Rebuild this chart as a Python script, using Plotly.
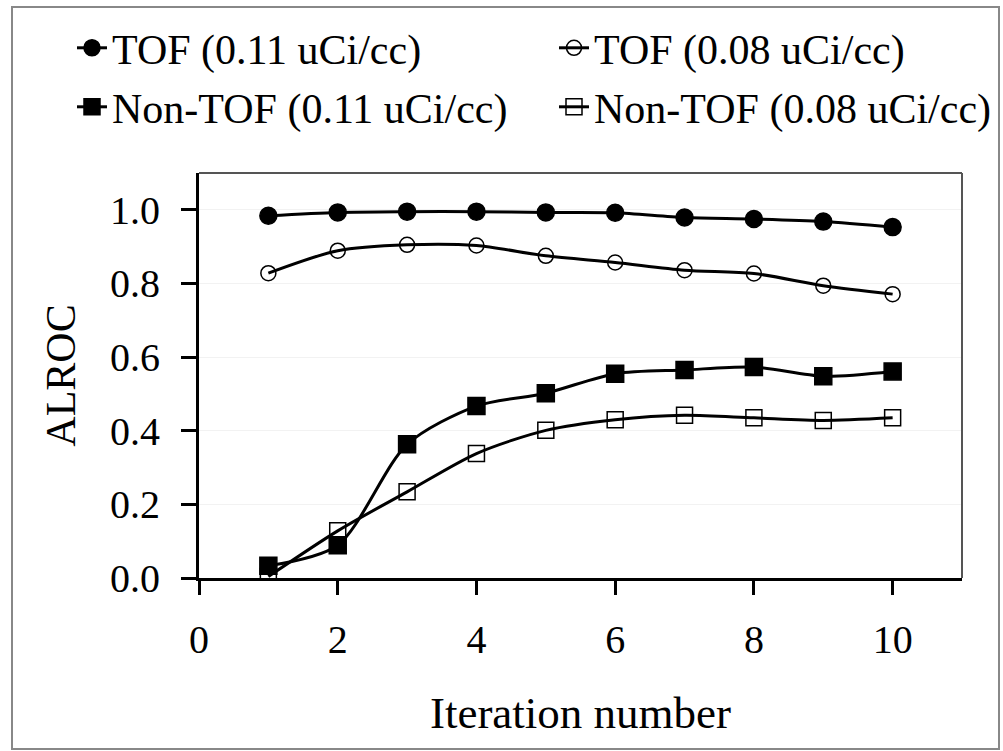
import plotly.graph_objects as go

iterations = [1, 2, 3, 4, 5, 6, 7, 8, 9, 10]
tof_011 = [0.984, 0.993, 0.995, 0.995, 0.993, 0.992, 0.979, 0.975, 0.968, 0.953]
tof_008 = [0.828, 0.889, 0.905, 0.903, 0.875, 0.857, 0.836, 0.827, 0.794, 0.771]
nontof_011 = [0.033, 0.089, 0.363, 0.467, 0.502, 0.555, 0.565, 0.573, 0.548, 0.561]
nontof_008 = [0.004, 0.128, 0.234, 0.338, 0.401, 0.430, 0.442, 0.435, 0.428, 0.435]
names = ["TOF (0.11 uCi/cc)", "TOF (0.08 uCi/cc)", "Non-TOF (0.11 uCi/cc)", "Non-TOF (0.08 uCi/cc)"]

FONT = "Liberation Serif"

fig = go.Figure()
series = [
    (tof_011, "circle", 17, "black", "legend"),
    (tof_008, "circle-open", 15, "black", "legend2"),
    (nontof_011, "square", 17, "black", "legend3"),
    (nontof_008, "square-open", 16, "black", "legend4"),
]
for (vals, sym, size, col, lg), nm in zip(series, names):
    fig.add_trace(go.Scatter(
        x=iterations, y=vals, name=nm, mode="lines+markers", legend=lg,
        line=dict(color="black", width=3, shape="spline", smoothing=0.8),
        marker=dict(symbol=sym, size=size, color=col,
                    line=dict(color="black", width=1.5)),
    ))

leg_common = dict(orientation="h", xanchor="left", yanchor="middle",
                  font=dict(family=FONT, size=42, color="black"),
                  bgcolor="rgba(0,0,0,0)", itemwidth=30)
px = lambda v: (v - 199) / 763
py = lambda v: (578 - v) / 405

fig.update_layout(
    width=1003, height=751,
    margin=dict(l=199, r=41, t=173, b=173, autoexpand=False),
    paper_bgcolor="white", plot_bgcolor="white",
    font=dict(family=FONT, size=40, color="black"),
    showlegend=True,
    legend=dict(x=px(72), y=py(48), **leg_common),
    legend2=dict(x=px(554), y=py(48), **leg_common),
    legend3=dict(x=px(72), y=py(107), **leg_common),
    legend4=dict(x=px(554), y=py(107), **leg_common),
    xaxis=dict(range=[0, 11], tickvals=[0, 2, 4, 6, 8, 10], ticks="outside",
               ticklen=14, tickwidth=3, tickcolor="black",
               showline=True, linecolor="black", linewidth=3,
               showgrid=False, zeroline=False, ticklabelstandoff=10,
               title=dict(text="Iteration number", standoff=36,
                          font=dict(family=FONT, size=45)),
               tickfont=dict(family=FONT, size=40)),
    yaxis=dict(range=[0, 1.1], tickvals=[0, 0.2, 0.4, 0.6, 0.8, 1.0], tickformat=".1f",
               ticks="outside", ticklen=15, tickwidth=3, tickcolor="black",
               showline=True, linecolor="black", linewidth=3,
               showgrid=True, gridcolor="#f2f2f2", gridwidth=1, zeroline=False,
               ticklabelstandoff=13,
               title=dict(text="ALROC", standoff=22, font=dict(family=FONT, size=42)),
               tickfont=dict(family=FONT, size=40)),
)

# plot box (top and right) in gray
fig.add_shape(type="line", xref="paper", yref="paper", x0=0, x1=1, y0=1, y1=1,
              line=dict(color="#555555", width=2))
fig.add_shape(type="line", xref="paper", yref="paper", x0=1, x1=1, y0=0, y1=1,
              line=dict(color="#555555", width=2))
# outer frame
fig.add_shape(type="rect", xref="paper", yref="paper",
              x0=px(12), x1=px(999), y0=py(749), y1=py(7),
              line=dict(color="#888888", width=2), layer="below")

fig.write_html("out.html")
